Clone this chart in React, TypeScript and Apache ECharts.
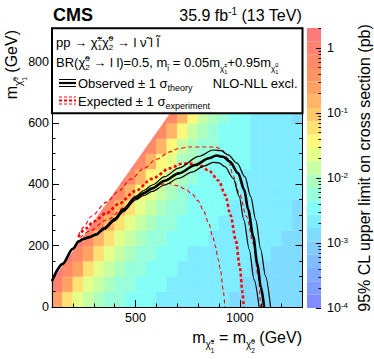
import React, { useEffect, useRef } from 'react';
import * as echarts from 'echarts';

const FONT = "'Liberation Sans', Arial, Helvetica, sans-serif";

// ---- axis ranges / ticks ----
const X_MIN = 100;
const X_MAX = 1300;
const Y_MIN = 0;
const Y_MAX = 910;
const Z_MIN = -4; // log10 of 1e-4 pb
const Z_MAX = 0.31; // log10 of ~2 pb

const xMajorTicks = [500, 1000];
const xMinorTicks = [200, 300, 400, 600, 700, 800, 900, 1100, 1200];
const yMajorTicks = [0, 200, 400, 600, 800];
const yMinorTicks = [50, 100, 150, 250, 300, 350, 450, 500, 550, 650, 700, 750, 850, 900];
const zMajorTicks = [-4, -3, -2, -1, 0];
const zMinorTicks: number[] = [];
for (let d = -4; d <= 0; d++) {
  for (let k = 2; k <= 9; k++) {
    const v = d + Math.log10(k);
    if (v < Z_MAX) zMinorTicks.push(v);
  }
}

// ---- heat map: log10(95% CL upper limit [pb]) in 50 GeV cells ----
// row r covers m(chi1^0) = 50r .. 50r+50 ; first cell of a row starts at max(100, 50r)
const CELL = 50;
const limitLog10Rows: number[][] = [
  [-0.7, -1.3, -1.6, -1.85, -2.05, -2.2, -2.35, -2.45, -2.5, -2.55, -2.6, -2.65, -2.65, -2.7, -2.7, -2.75, -2.75, -2.8, -2.8, -2.85, -2.8, -2.85, -2.85, -2.8],
  [0.0, -0.7, -1.3, -1.6, -1.85, -2.05, -2.2, -2.35, -2.45, -2.5, -2.55, -2.6, -2.65, -2.65, -2.7, -2.7, -2.75, -2.75, -2.8, -2.8, -2.85, -2.8, -2.85, -2.85],
  [0.2, -0.15, -0.7, -1.25, -1.6, -1.85, -2.05, -2.2, -2.35, -2.45, -2.5, -2.55, -2.6, -2.6, -2.65, -2.7, -2.7, -2.75, -2.75, -2.8, -2.8, -2.85, -2.8, -2.85],
  [0.2, -0.15, -0.7, -1.25, -1.55, -1.8, -2.0, -2.2, -2.3, -2.45, -2.5, -2.55, -2.6, -2.6, -2.65, -2.65, -2.7, -2.7, -2.75, -2.75, -2.8, -2.8, -2.8],
  [0.2, -0.15, -0.75, -1.3, -1.6, -1.85, -2.05, -2.2, -2.35, -2.45, -2.5, -2.55, -2.55, -2.6, -2.65, -2.65, -2.7, -2.7, -2.75, -2.75, -2.8, -2.8],
  [0.2, -0.15, -0.75, -1.3, -1.6, -1.85, -2.05, -2.2, -2.35, -2.45, -2.5, -2.5, -2.55, -2.6, -2.6, -2.65, -2.7, -2.7, -2.75, -2.75, -2.8],
  [0.2, -0.15, -0.8, -1.3, -1.6, -1.85, -2.05, -2.25, -2.35, -2.45, -2.5, -2.55, -2.55, -2.6, -2.6, -2.65, -2.7, -2.7, -2.75, -2.8],
  [0.2, -0.15, -0.8, -1.35, -1.65, -1.9, -2.1, -2.25, -2.4, -2.45, -2.5, -2.55, -2.55, -2.6, -2.65, -2.65, -2.7, -2.75, -2.75],
  [0.2, -0.15, -0.85, -1.35, -1.65, -1.9, -2.1, -2.3, -2.4, -2.45, -2.5, -2.55, -2.6, -2.6, -2.65, -2.7, -2.7, -2.75],
  [0.2, -0.15, -0.85, -1.4, -1.7, -1.95, -2.15, -2.3, -2.4, -2.5, -2.5, -2.55, -2.6, -2.65, -2.65, -2.7, -2.75],
  [0.2, -0.15, -0.9, -1.4, -1.75, -2.0, -2.2, -2.35, -2.45, -2.5, -2.55, -2.6, -2.6, -2.65, -2.7, -2.75],
  [0.2, -0.15, -0.9, -1.45, -1.8, -2.0, -2.25, -2.4, -2.45, -2.55, -2.6, -2.65, -2.7, -2.7, -2.75],
  [0.2, -0.15, -0.9, -1.45, -1.8, -2.0, -2.3, -2.45, -2.5, -2.6, -2.7, -2.75, -2.75, -2.8],
];
// upper edge of the scanned mass plane (m_chi1^0 vs m_chi1+-)
const scanEdge = [[100, 84.5], [700, 663.5]];

// colour palette bands, low -> high
const bandColors = [
  '#808cff', '#809cff', '#80acff', '#80bcff', '#80ccff', '#80dcff', '#80ecff',
  '#84fff8', '#98ffda', '#acffbe', '#c8ffa2', '#e4ff8a', '#fff87a', '#ffe072',
  '#ffc86a', '#ffb466', '#ffa262', '#ff9462', '#ff8a68', '#ff8270', '#ff7b7b',
];

// ---- exclusion contours [m(chi1+-) GeV, m(chi1^0) GeV] ----
const observed = [[100, 85], [150, 140], [200, 190], [228, 214], [250, 222], [280, 228], [310, 236], [350, 256], [400, 285], [440, 315], [500, 355], [540, 372], [580, 387], [640, 412], [707, 436], [787, 463], [851, 485], [888, 494], [920, 490], [952, 474], [992, 436], [1021, 382], [1040, 317], [1064, 230], [1083, 143], [1100, 67], [1116, 0]];
const observedUp = [[100, 86], [150, 141], [200, 191], [228, 215], [250, 223], [280, 229], [310, 238], [350, 259], [400, 289], [440, 320], [500, 361], [540, 380], [580, 398], [640, 425], [707, 453], [803, 491], [872, 512], [910, 510], [944, 496], [987, 469], [1024, 425], [1052, 360], [1076, 284], [1100, 187], [1123, 100], [1147, 0]];
const observedDown = [[100, 84], [150, 139], [200, 189], [228, 213], [250, 221], [280, 227], [310, 234], [350, 253], [400, 281], [440, 310], [500, 349], [540, 364], [580, 377], [640, 398], [707, 420], [770, 440], [830, 460], [872, 472], [900, 470], [928, 458], [968, 420], [997, 360], [1019, 284], [1045, 187], [1068, 89], [1092, 0]];
const expected = [[226, 228], [262, 256], [300, 279], [361, 306], [419, 336], [499, 378], [579, 418], [664, 452], [720, 467], [760, 468], [803, 463], [851, 445], [899, 412], [930, 365], [955, 300], [980, 220], [1000, 130], [1012, 50], [1018, 0]];
const expectedUp = [[226, 232], [250, 260], [290, 297], [361, 342], [419, 378], [480, 418], [540, 452], [600, 482], [665, 506], [707, 517], [760, 522], [820, 522], [883, 522], [915, 512], [944, 484], [968, 428], [997, 371], [1032, 295], [1064, 208], [1088, 100], [1099, 0]];
const expectedDown = [[235, 226], [281, 248], [361, 284], [457, 328], [515, 358], [569, 383], [617, 400], [660, 403], [700, 396], [740, 384], [771, 369], [800, 346], [824, 317], [851, 273], [870, 230], [883, 197], [896, 155], [907, 121], [920, 56], [928, 0]];

// ---- text helpers ----
const CHI = '\u03C7\u0303';
let measureCtx: CanvasRenderingContext2D | null = null;
function measure(t: string, size: number, bold: boolean) {
  if (!measureCtx) measureCtx = document.createElement('canvas').getContext('2d');
  measureCtx!.font = `${bold ? 'bold ' : ''}${size}px ${FONT}`;
  return measureCtx!.measureText(t).width;
}
type Seg = { t: string; s: number; dy?: number; stack?: boolean; bold?: boolean };
function runs(segs: Seg[], color: string) {
  const children: any[] = [];
  let x = 0;
  let held = 0;
  for (const g of segs) {
    const bold = !!g.bold;
    const w = measure(g.t, g.s, bold);
    children.push({
      type: 'text', x, y: (g.dy ?? 0) - 0.347 * g.s, z: 101, silent: true,
      style: { text: g.t, fontSize: g.s, fontFamily: FONT, fontWeight: bold ? 'bold' : 'normal', fill: color, align: 'left', verticalAlign: 'middle' },
    });
    if (g.stack) held = Math.max(held, w);
    else { x += Math.max(w, held); held = 0; }
  }
  return { children, width: x };
}
function textLine(segs: Seg[], x: number, base: number, anchor: 'left' | 'right' = 'left', color = '#000') {
  const { children, width } = runs(segs, color);
  return { type: 'group', x: anchor === 'right' ? x - width : x, y: base, z: 101, children };
}
function textVertical(segs: Seg[], baseX: number, topY: number, color = '#000') {
  const { children, width } = runs(segs, color);
  return { type: 'group', x: baseX, y: topY + width, rotation: Math.PI / 2, z: 101, children };
}

const legendLine1: Seg[] = [
  { t: 'pp \u2192 ', s: 13 }, { t: CHI, s: 13 }, { t: '\u00B1', s: 8, dy: -6, stack: true }, { t: '1', s: 8, dy: 3 },
  { t: CHI, s: 13 }, { t: '0', s: 8, dy: -6, stack: true }, { t: '2', s: 8, dy: 3 },
  { t: ' \u2192 l ', s: 13 }, { t: '\u03BD\u0303', s: 13 }, { t: ' l ', s: 13 }, { t: 'l\u0303', s: 13 },
];
const legendLine2: Seg[] = [
  { t: 'BR(', s: 13 }, { t: CHI, s: 13 }, { t: '0', s: 8, dy: -6, stack: true }, { t: '2', s: 8, dy: 3 },
  { t: ' \u2192 l l)=0.5, m', s: 13 }, { t: 'l\u0303', s: 8, dy: 4 },
  { t: ' = 0.05m', s: 13 }, { t: CHI, s: 8, dy: 4 }, { t: '\u00B1', s: 5.5, dy: 0, stack: true }, { t: '1', s: 5.5, dy: 7 },
  { t: '+0.95m', s: 13 }, { t: CHI, s: 8, dy: 4 }, { t: '0', s: 5.5, dy: 0, stack: true }, { t: '1', s: 5.5, dy: 7 },
];
const legendObs: Seg[] = [{ t: 'Observed \u00B1 1 \u03C3', s: 13 }, { t: 'theory', s: 9, dy: 3 }];
const legendExp: Seg[] = [{ t: 'Expected \u00B1 1 \u03C3', s: 13 }, { t: 'experiment', s: 9, dy: 3 }];
const legendNlo: Seg[] = [{ t: 'NLO-NLL excl.', s: 13 }];
const cmsLabel: Seg[] = [{ t: 'CMS', s: 18, bold: true }];
const lumiLabel: Seg[] = [{ t: '35.9 fb', s: 16 }, { t: '-1', s: 10, dy: -6 }, { t: ' (13 TeV)', s: 16 }];
const xTitle: Seg[] = [
  { t: 'm', s: 16 }, { t: CHI, s: 10, dy: 5 }, { t: '\u00B1', s: 6.5, dy: 1, stack: true }, { t: '1', s: 6.5, dy: 10 },
  { t: ' = m', s: 16 }, { t: CHI, s: 10, dy: 5 }, { t: '0', s: 6.5, dy: 1, stack: true }, { t: '2', s: 6.5, dy: 10 },
  { t: ' (GeV)', s: 16 },
];
const yTitle: Seg[] = [
  { t: 'm', s: 16 }, { t: CHI, s: 10, dy: 5 }, { t: '0', s: 6.5, dy: 1, stack: true }, { t: '1', s: 6.5, dy: 10 },
  { t: ' (GeV)', s: 16 },
];
const zTitle = '95% CL upper limit on cross section (pb)';

// clip a polygon (data coords) to the region below the scan edge
function clipBelowEdge(pts: number[][]) {
  const [[ax, ay], [bx, by]] = scanEdge;
  const slope = (by - ay) / (bx - ax);
  const f = (p: number[]) => ay + slope * (p[0] - ax) - p[1];
  const out: number[][] = [];
  for (let i = 0; i < pts.length; i++) {
    const p = pts[i];
    const q = pts[(i + 1) % pts.length];
    const fp = f(p);
    const fq = f(q);
    if (fp >= 0) out.push(p);
    if ((fp >= 0) !== (fq >= 0)) {
      const t = fp / (fp - fq);
      out.push([p[0] + t * (q[0] - p[0]), p[1] + t * (q[1] - p[1])]);
    }
  }
  return out;
}

function buildOption() {
  const cells: number[][] = [];
  limitLog10Rows.forEach((row, r) => {
    const y0 = r * CELL;
    const xStart = Math.max(X_MIN, y0);
    row.forEach((v, i) => cells.push([xStart + i * CELL, y0, v]));
  });

  const step = (Z_MAX - Z_MIN) / bandColors.length;
  const pieces = bandColors.map((c, i) =>
    i === bandColors.length - 1
      ? { gte: Z_MIN + i * step, lte: Z_MAX, color: c }
      : { gte: Z_MIN + i * step, lt: Z_MIN + (i + 1) * step, color: c });

  const black = { color: '#000', width: 1 };
  const tickAxis = (extra: any) => ({
    type: 'value', z: 10, splitLine: { show: false },
    axisLine: { show: false, onZero: false, lineStyle: black },
    axisLabel: { show: false }, ...extra,
  });

  const lineSeries = (data: number[][], color: string, width: number, dash: any, z: number) => ({
    type: 'line', xAxisIndex: 0, yAxisIndex: 0, data, symbol: 'none', showSymbol: false,
    smooth: 0.3, smoothMonotone: 'x', silent: true, z,
    lineStyle: { color, width, type: dash },
  });

  return {
    animation: false,
    grid: [
      { left: 52, top: 28, width: 250.5, height: 279, show: false },
      { left: 307, top: 28, width: 14, height: 280, show: false },
    ],
    xAxis: [
      tickAxis({
        gridIndex: 0, min: X_MIN, max: X_MAX, position: 'bottom',
        axisLine: { show: true, onZero: false, lineStyle: black },
        axisTick: { show: true, inside: true, length: 7, customValues: xMajorTicks, lineStyle: black },
        axisLabel: { show: true, customValues: xMajorTicks, margin: 4, color: '#000', fontSize: 12.5, fontFamily: FONT, formatter: (v: number) => String(v) },
      }),
      tickAxis({ gridIndex: 0, min: X_MIN, max: X_MAX, position: 'bottom', axisTick: { show: true, inside: true, length: 3.5, customValues: xMinorTicks, lineStyle: black } }),
      tickAxis({ gridIndex: 0, min: X_MIN, max: X_MAX, position: 'top', axisLine: { show: true, onZero: false, lineStyle: black }, axisTick: { show: false } }),
      { gridIndex: 1, type: 'value', min: 0, max: 1, show: false },
    ],
    yAxis: [
      tickAxis({
        gridIndex: 0, min: Y_MIN, max: Y_MAX, position: 'left',
        axisLine: { show: true, onZero: false, lineStyle: black },
        axisTick: { show: true, inside: true, length: 7, customValues: yMajorTicks, lineStyle: black },
        axisLabel: { show: true, customValues: yMajorTicks, margin: 3, color: '#000', fontSize: 12.5, fontFamily: FONT, formatter: (v: number) => String(v) },
      }),
      tickAxis({ gridIndex: 0, min: Y_MIN, max: Y_MAX, position: 'left', axisTick: { show: true, inside: true, length: 3.5, customValues: yMinorTicks, lineStyle: black } }),
      tickAxis({ gridIndex: 0, min: Y_MIN, max: Y_MAX, position: 'right', axisLine: { show: true, onZero: false, lineStyle: black }, axisTick: { show: true, inside: true, length: 7, customValues: yMajorTicks, lineStyle: black } }),
      tickAxis({ gridIndex: 0, min: Y_MIN, max: Y_MAX, position: 'right', axisTick: { show: true, inside: true, length: 3.5, customValues: yMinorTicks, lineStyle: black } }),
      tickAxis({
        gridIndex: 1, min: Z_MIN, max: Z_MAX, position: 'right',
        axisTick: { show: true, inside: true, length: 5, customValues: zMajorTicks, lineStyle: black },
        axisLabel: {
          show: true, customValues: zMajorTicks, margin: 6, color: '#000', fontSize: 12.5, fontFamily: FONT,
          formatter: (v: number) => { const n = Math.round(v); return n === 0 ? '1' : `10{sup|${n}}`; },
          rich: { sup: { fontSize: 8, fontFamily: FONT, color: '#000', verticalAlign: 'top', lineHeight: 8 } },
        },
        name: zTitle, nameLocation: 'middle', nameRotate: 90, nameGap: 35,
        nameTextStyle: { color: '#000', fontSize: 16, fontFamily: FONT },
      }),
      tickAxis({ gridIndex: 1, min: Z_MIN, max: Z_MAX, position: 'right', axisTick: { show: true, inside: true, length: 2.5, customValues: zMinorTicks, lineStyle: black } }),
    ],
    visualMap: [{
      type: 'piecewise', seriesIndex: 0, dimension: 2, orient: 'vertical',
      left: 307, top: 28, padding: 0, itemWidth: 14, itemHeight: 280 / bandColors.length, itemGap: 0,
      itemSymbol: 'rect', showLabel: false, selectedMode: false, hoverLink: false, pieces,
    }],
    series: [
      {
        type: 'custom', xAxisIndex: 0, yAxisIndex: 0, data: cells, silent: true, z: 1,
        dimensions: ['x', 'y', 'v'], encode: { x: 0, y: 1 },
        renderItem: (_p: any, api: any) => {
          const x0 = api.value(0);
          const y0 = api.value(1);
          const poly = clipBelowEdge([[x0, y0], [x0 + CELL, y0], [x0 + CELL, y0 + CELL], [x0, y0 + CELL]]);
          if (poly.length < 3) return { type: 'group', children: [] };
          const c = api.visual('color');
          return {
            type: 'polygon',
            shape: { points: poly.map((p) => api.coord(p)) },
            style: { fill: c, stroke: c, lineWidth: 0.6 },
          };
        },
      },
      lineSeries(expectedUp, '#ff0000', 1.1, [4, 3], 3),
      lineSeries(expectedDown, '#ff0000', 1.1, [4, 3], 3),
      lineSeries(expected, '#ff0000', 2.6, [3, 2.5], 3),
      lineSeries(observedUp, '#000', 1.2, 'solid', 4),
      lineSeries(observedDown, '#000', 1.2, 'solid', 4),
      lineSeries(observed, '#000', 2.6, 'solid', 4),
    ],
    graphic: [
      { type: 'rect', z: 100, silent: true, shape: { x: 52, y: 28.3, width: 250.5, height: 85 }, style: { fill: '#fff', stroke: '#000', lineWidth: 2 } },
      textLine(legendLine1, 56, 47),
      textLine(legendLine2, 56, 67),
      textLine(legendObs, 78, 88),
      textLine(legendNlo, 298, 88, 'right'),
      textLine(legendExp, 78, 106),
      { type: 'line', z: 101, silent: true, shape: { x1: 59, y1: 79.5, x2: 76, y2: 79.5 }, style: { stroke: '#000', lineWidth: 1 } },
      { type: 'line', z: 101, silent: true, shape: { x1: 59, y1: 83, x2: 76, y2: 83 }, style: { stroke: '#000', lineWidth: 2.2 } },
      { type: 'line', z: 101, silent: true, shape: { x1: 59, y1: 86.5, x2: 76, y2: 86.5 }, style: { stroke: '#000', lineWidth: 1 } },
      { type: 'line', z: 101, silent: true, shape: { x1: 59, y1: 97, x2: 76, y2: 97 }, style: { stroke: '#ff0000', lineWidth: 1, lineDash: [3, 2] } },
      { type: 'line', z: 101, silent: true, shape: { x1: 59, y1: 100.5, x2: 76, y2: 100.5 }, style: { stroke: '#ff0000', lineWidth: 2.2, lineDash: [3, 2] } },
      { type: 'line', z: 101, silent: true, shape: { x1: 59, y1: 104, x2: 76, y2: 104 }, style: { stroke: '#ff0000', lineWidth: 1, lineDash: [3, 2] } },
      textLine(cmsLabel, 53, 21),
      textLine(lumiLabel, 302, 21, 'right'),
      textLine(xTitle, 302, 343, 'right'),
      textVertical(yTitle, 17, 30),
    ],
  };
}

export default function App() {
  const ref = useRef<HTMLDivElement>(null);
  useEffect(() => {
    const chart = echarts.init(ref.current!, null, { renderer: 'svg' });
    chart.setOption(buildOption() as any);
    return () => chart.dispose();
  }, []);
  return <div ref={ref} style={{ position: 'fixed', left: 0, top: 0, width: 374, height: 359, background: '#fff' }} />;
}
